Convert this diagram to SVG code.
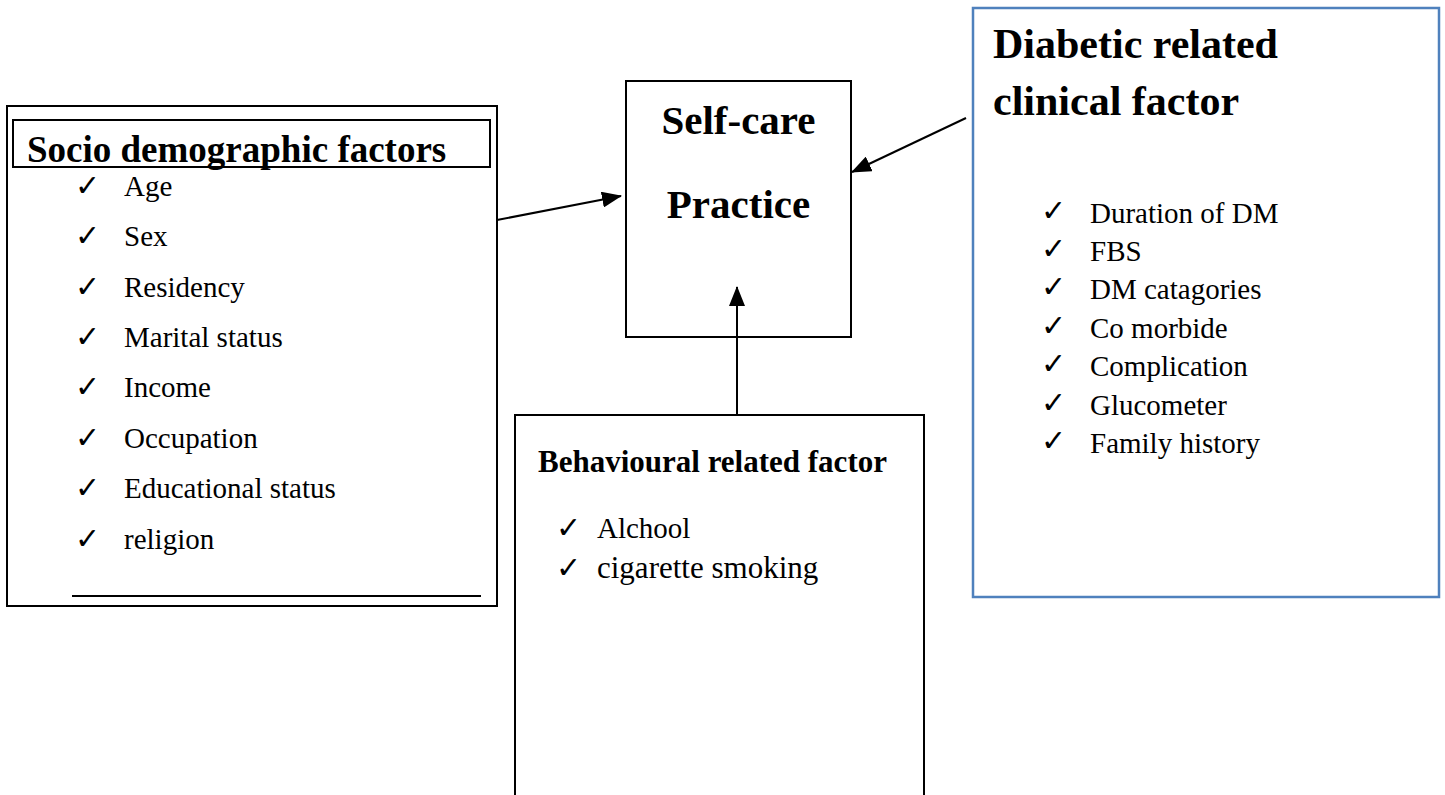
<svg xmlns="http://www.w3.org/2000/svg" width="1445" height="795" viewBox="0 0 1445 795">
<defs>
<style>
.box{fill:#fff;stroke:#000;stroke-width:2}
.blue{fill:#fff;stroke:#4f81bd;stroke-width:2.5}
.t{font-family:"Liberation Serif","Times New Roman",serif;fill:#000}
.b{font-weight:bold}
.ck{font-family:"DejaVu Sans",sans-serif;fill:#000;font-size:30px;font-weight:bold}
.conn{stroke:#000;stroke-width:2;fill:none}
</style>
<marker id="ah2" markerWidth="20" markerHeight="16" refX="19" refY="8" orient="auto" markerUnits="userSpaceOnUse" viewBox="0 0 20 16">
<path d="M0,0 L20,8 L0,16 Z" fill="#000"/>
</marker>
</defs>
<rect width="1445" height="795" fill="#fff"/>

<g id="socio">
<rect class="box" x="7" y="106" width="490" height="500"/>
<rect class="box" x="13" y="120" width="477" height="47"/>
<text class="t b" x="27" y="162" font-size="37">Socio demographic factors</text>
<g class="t" font-size="29">
<text x="124" y="196">Age</text>
<text x="124" y="246">Sex</text>
<text x="124" y="297">Residency</text>
<text x="124" y="347">Marital status</text>
<text x="124" y="397">Income</text>
<text x="124" y="448">Occupation</text>
<text x="124" y="498">Educational status</text>
<text x="124" y="549">religion</text>
</g>
<g class="ck">
<text x="75" y="196">✓</text>
<text x="75" y="246">✓</text>
<text x="75" y="297">✓</text>
<text x="75" y="347">✓</text>
<text x="75" y="397">✓</text>
<text x="75" y="448">✓</text>
<text x="75" y="498">✓</text>
<text x="75" y="549">✓</text>
</g>
<line x1="72" y1="596" x2="481" y2="596" stroke="#000" stroke-width="2"/>
</g>

<g id="selfcare">
<rect class="box" x="626" y="81" width="225" height="256"/>
<text class="t b" x="738.5" y="134" font-size="41" text-anchor="middle">Self-care</text>
<text class="t b" x="738.5" y="218" font-size="41" text-anchor="middle">Practice</text>
</g>

<g id="clinical">
<rect class="blue" x="973" y="8" width="466" height="589"/>
<text class="t b" x="993" y="58" font-size="42">Diabetic related</text>
<text class="t b" x="993" y="115" font-size="42">clinical factor</text>
<g class="t" font-size="29">
<text x="1090" y="223">Duration of DM</text>
<text x="1090" y="261">FBS</text>
<text x="1090" y="299">DM catagories</text>
<text x="1090" y="338">Co morbide</text>
<text x="1090" y="376">Complication</text>
<text x="1090" y="415">Glucometer</text>
<text x="1090" y="453">Family history</text>
</g>
<g class="ck">
<text x="1041" y="221">✓</text>
<text x="1041" y="259">✓</text>
<text x="1041" y="297">✓</text>
<text x="1041" y="336">✓</text>
<text x="1041" y="374">✓</text>
<text x="1041" y="413">✓</text>
<text x="1041" y="451">✓</text>
</g>
</g>

<g id="behavioural">
<rect class="box" x="515" y="415" width="409" height="400"/>
<text class="t b" x="538" y="472" font-size="31">Behavioural related factor</text>
<text class="t" x="597" y="538" font-size="29">Alchool</text>
<text class="t" x="597" y="578" font-size="31">cigarette smoking</text>
<text class="ck" x="556" y="538">✓</text>
<text class="ck" x="556" y="578">✓</text>
</g>

<g id="connectors">
<line class="conn" x1="497" y1="220" x2="621" y2="196" marker-end="url(#ah2)"/>
<line class="conn" x1="966" y1="118" x2="852" y2="172" marker-end="url(#ah2)"/>
<line class="conn" x1="737" y1="415" x2="737" y2="287" marker-end="url(#ah2)"/>
</g>
</svg>
